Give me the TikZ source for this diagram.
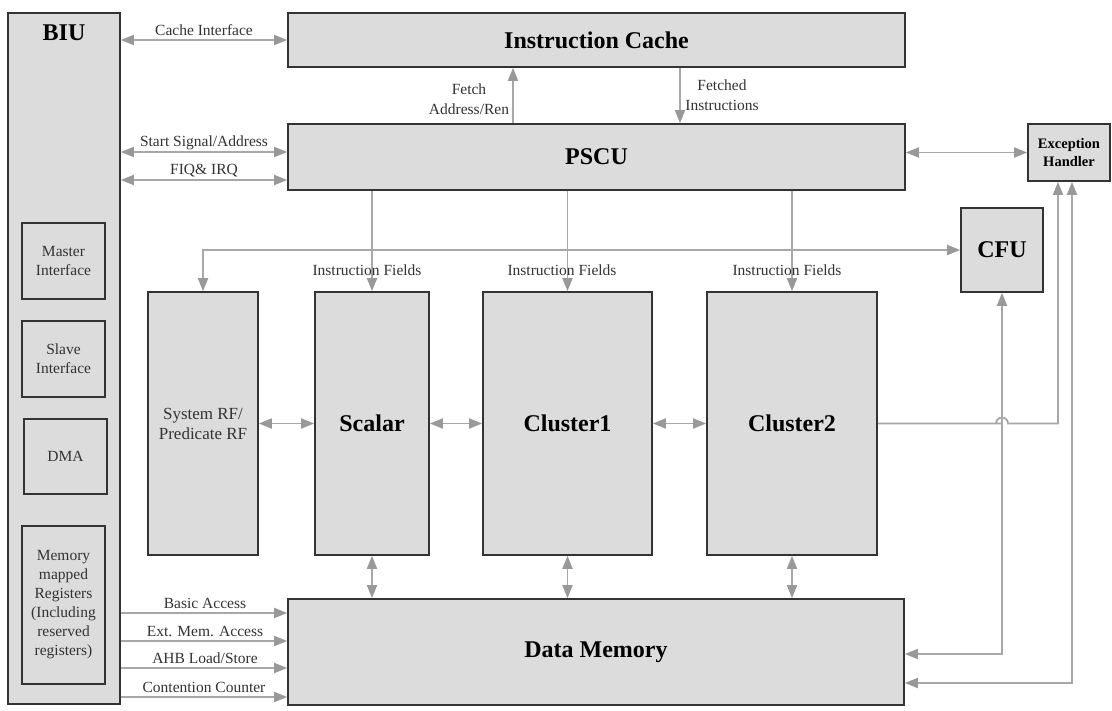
\documentclass[tikz,border=0pt]{standalone}
\usepackage{fontspec}
\setmainfont{Liberation Serif}
\usetikzlibrary{arrows.meta}
\definecolor{boxfill}{HTML}{DCDCDC}
\definecolor{boxline}{HTML}{333333}
\definecolor{wirecol}{HTML}{A8A8A8}
\definecolor{tipcol}{HTML}{999999}
\tikzset{
  blk/.style={draw=boxline, fill=boxfill, line width=1.7pt, inner sep=0pt, align=center},
  ttl/.style={font=\fontsize{24}{27}\selectfont\bfseries},
  txt/.style={font=\fontsize{15.5}{19}\selectfont, text=black!80},
  lbl/.style={font=\fontsize{15.5}{20}\selectfont, text=black!80, inner sep=0pt, align=center},
  wire/.style={draw=wirecol, line width=1.8pt},
  sgl/.style={wire, -{Triangle[length=13pt,width=10pt,color=tipcol]}},
  dbl/.style={wire, {Triangle[length=13pt,width=10pt,color=tipcol]}-{Triangle[length=13pt,width=10pt,color=tipcol]}},
}
\begin{document}
\begin{tikzpicture}[x=1pt,y=-1pt]
\useasboundingbox[fill=white] (0,0) rectangle (1112,711);

% ---------- bus interface unit and its sub-blocks ----------
\node[blk, minimum width=112pt, minimum height=691pt,
      label={[ttl, anchor=north, yshift=-9pt]north:BIU}] (biu) at (64,358.5) {};
\node[blk, txt, minimum width=83pt, minimum height=76pt] (master) at (63.5,261) {Master\\Interface};
\node[blk, txt, minimum width=83pt, minimum height=76pt] (slave) at (63.5,359) {Slave\\Interface};
\node[blk, txt, minimum width=83pt, minimum height=75pt] (dma) at (65.5,456.5) {DMA};
\node[blk, txt, minimum width=83pt, minimum height=158pt] (mmr) at (63.5,605)
  {Memory\\mapped\\Registers\\(Including\\reserved\\registers)};

% ---------- main blocks ----------
\node[blk, ttl, minimum width=617pt, minimum height=54pt] (ic) at (596.5,40) {Instruction Cache};
\node[blk, ttl, minimum width=617pt, minimum height=66pt] (pscu) at (596.5,157) {PSCU};
\node[blk, minimum width=82pt, minimum height=57pt,
      font=\fontsize{14.5}{18}\selectfont\bfseries] (exc) at (1069,152.5) {Exception\\Handler};
\node[blk, ttl, minimum width=82pt, minimum height=84pt] (cfu) at (1002,250) {CFU};
\node[blk, minimum width=110pt, minimum height=263pt,
      font=\fontsize{17}{20}\selectfont, text=black!80] (sysrf) at (203,423.5) {System RF/\\Predicate RF};
\node[blk, ttl, minimum width=114pt, minimum height=263pt] (scalar) at (372,423.5) {Scalar};
\node[blk, ttl, minimum width=169pt, minimum height=263pt] (cl1) at (567.5,423.5) {Cluster1};
\node[blk, ttl, minimum width=170pt, minimum height=263pt] (cl2) at (792,423.5) {Cluster2};
\node[blk, ttl, minimum width=616pt, minimum height=106pt] (dm) at (596,652) {Data Memory};

% ---------- BIU to cache / PSCU ----------
\draw[dbl] (biu.east |- ic.west) -- (ic.west);
\node[lbl] (lci) at (204,30) {Cache Interface};
\path (pscu.west) ++(0,-5) coordinate (ssa) ++(0,28) coordinate (fiq);
\draw[dbl] (biu.east |- ssa) -- (ssa);
\draw[dbl] (biu.east |- fiq) -- (fiq);
\node[lbl] (lssa) at (204,143) {Start Signal/Address};
\node[lbl] (lfiq) at (204,171) {FIQ\& IRQ};

% ---------- cache <-> PSCU ----------
\coordinate (fx) at (513,0);
\coordinate (fdx) at (680,0);
\draw[sgl] (pscu.north -| fx) -- (ic.south -| fx);
\draw[sgl] (ic.south -| fdx) -- (pscu.north -| fdx);
\node[lbl] (lfa) at (469,99) {Fetch\\Address/Ren};
\node[lbl] (lfi) at (722,95) {Fetched\\Instructions};

% ---------- PSCU <-> exception handler ----------
\draw[dbl] (pscu.east |- exc.west) -- (exc.west);

% ---------- system RF <-> CFU ----------
\draw[dbl] (sysrf.north) |- (cfu.west);

% ---------- instruction fields ----------
\draw[sgl] (pscu.south -| scalar.north) -- (scalar.north);
\draw[sgl] (pscu.south -| cl1.north) -- (cl1.north);
\draw[sgl] (pscu.south -| cl2.north) -- (cl2.north);
\node[lbl] (lif1) at (367,270) {Instruction Fields};
\node[lbl] (lif2) at (562,270) {Instruction Fields};
\node[lbl] (lif3) at (787,270) {Instruction Fields};

% ---------- lateral links between execution blocks ----------
\draw[dbl] (sysrf.east) -- (scalar.west);
\draw[dbl] (scalar.east) -- (cl1.west);
\draw[dbl] (cl1.east) -- (cl2.west);

% ---------- execution blocks <-> data memory ----------
\draw[dbl] (scalar.south) -- (scalar.south |- dm.north);
\draw[dbl] (cl1.south) -- (cl1.south |- dm.north);
\draw[dbl] (cl2.south) -- (cl2.south |- dm.north);

% ---------- right-hand return paths ----------
\coordinate (exa) at ([xshift=-11pt]exc.south);
\coordinate (exb) at ([xshift=3pt]exc.south);
\path (dm.east) ++(0,2) coordinate (dmc) ++(0,29) coordinate (dme);
\draw[dbl] (dmc) -| (cfu.south);
\draw[dbl] (dme) -| (exb);
\draw[sgl] (cl2.east) -- (cfu.south |- cl2.east) ++(-6,0)
   arc[start angle=180, end angle=360, radius=6] -- (exa |- cl2.east) -- (exa);

% ---------- BIU -> data memory ----------
\path (dm.west) ++(0,-39) coordinate (ba) ++(0,28) coordinate (em)
      ++(0,27) coordinate (ahb) ++(0,29) coordinate (cc);
\draw[sgl] (biu.east |- ba) -- (ba);
\draw[sgl] (biu.east |- em) -- (em);
\draw[sgl] (biu.east |- ahb) -- (ahb);
\draw[sgl] (biu.east |- cc) -- (cc);
\node[lbl] (lba) at (205,603) {Basic Access};
\node[lbl] (lem) at (205,631) {Ext. Mem. Access};
\node[lbl] (lahb) at (205,658) {AHB Load/Store};
\node[lbl] (lcc) at (204,687) {Contention Counter};
\end{tikzpicture}
\end{document}
